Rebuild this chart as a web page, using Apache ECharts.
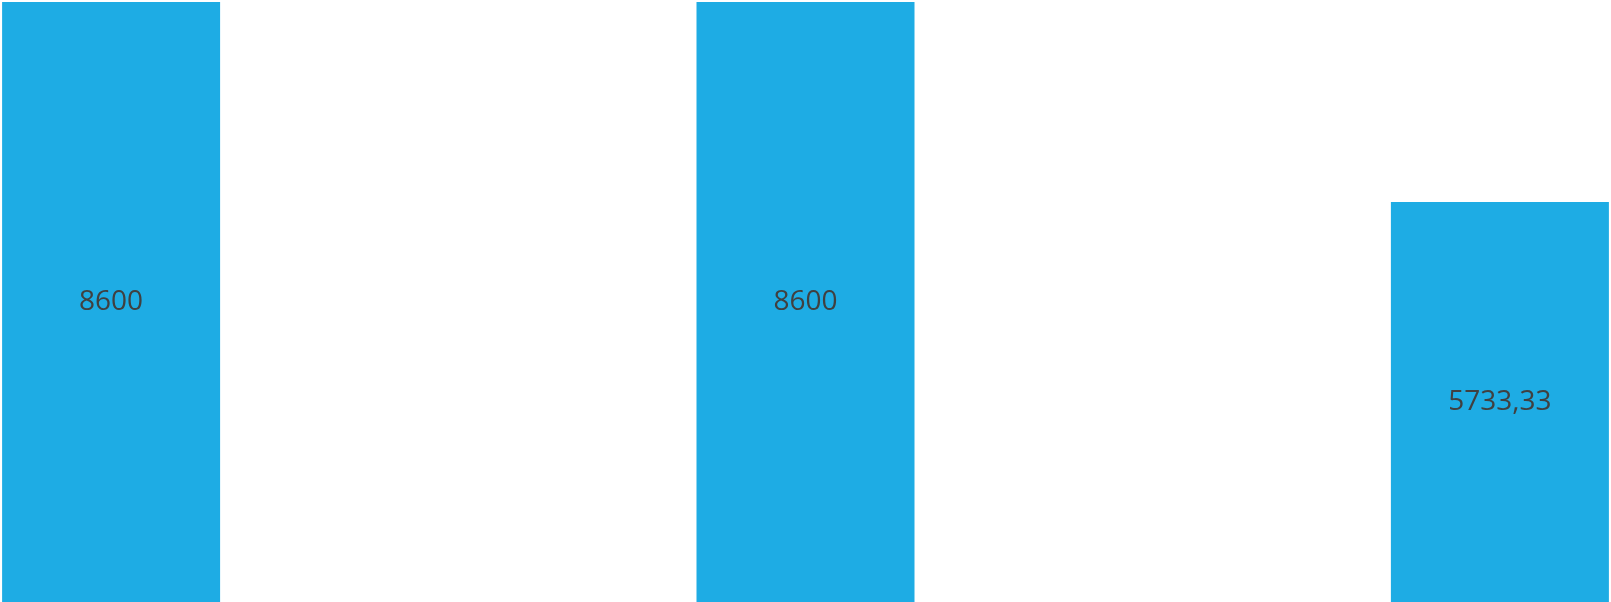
<!DOCTYPE html>
<html>
<head>
<meta charset="utf-8">
<script src="https://cdn.jsdelivr.net/npm/echarts@6/dist/echarts.min.js"></script>
<style>
html,body{margin:0;padding:0;background:#fff;}
#chart{width:1611px;height:602px;}
</style>
</head>
<body>
<div id="chart"></div>
<script>
const categories = ['1', '2', '3'];
const values = [8600, 8600, 5733.33];

const chart = echarts.init(document.getElementById('chart'));
chart.setOption({
  animation: false,
  grid: { left: 0, right: 0, top: 2, bottom: 0, containLabel: false },
  xAxis: {
    type: 'value',
    min: -0.16,
    max: 2.16,
    show: false,
    splitLine: { show: false }
  },
  yAxis: {
    type: 'value',
    min: 0,
    max: 8600,
    show: false,
    splitLine: { show: false }
  },
  series: [{
    type: 'bar',
    data: values.map((v, i) => ({ name: categories[i], value: [i, v] })),
    barWidth: 218,
    itemStyle: { color: '#1EACE4' },
    label: {
      show: true,
      position: 'inside',
      color: '#404040',
      fontFamily: 'Open Sans',
      fontSize: 28,
      formatter: p => String(p.value[1]).replace('.', ',')
    }
  }]
});
</script>
</body>
</html>
